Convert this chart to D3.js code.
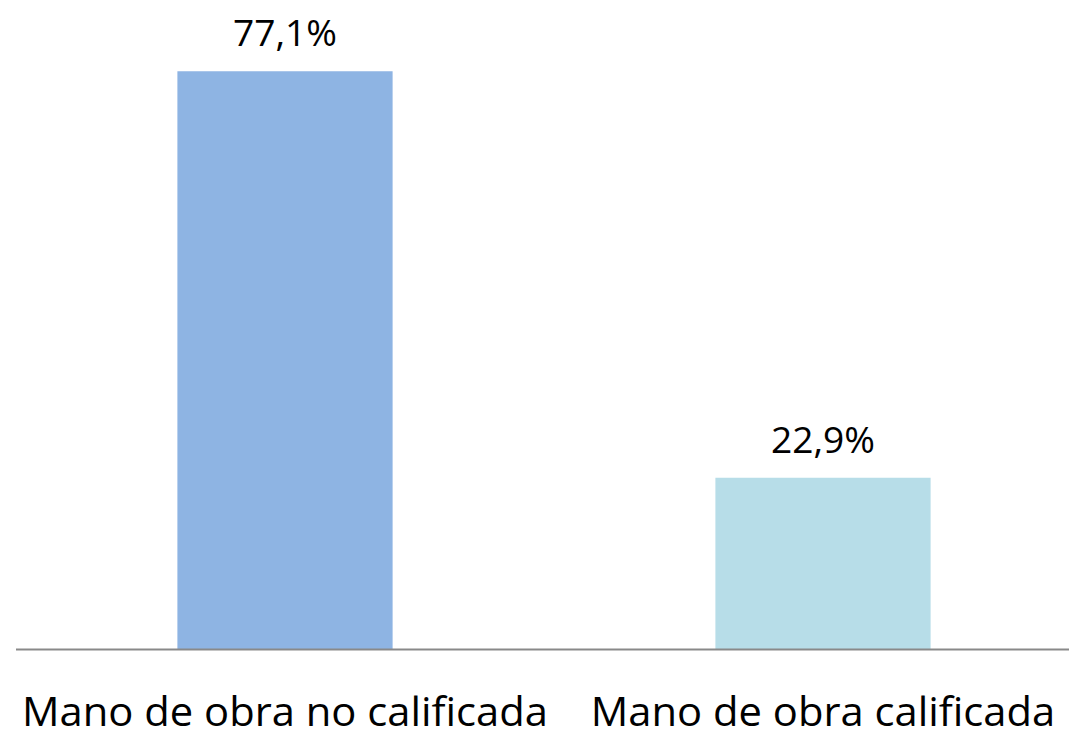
<!DOCTYPE html>
<html><head><meta charset="utf-8">
<script src="https://cdn.jsdelivr.net/npm/d3@7/dist/d3.min.js"></script>
<style>html,body{margin:0;padding:0;background:#fff;overflow:hidden}</style>
</head><body>
<svg id="c" width="1069" height="729"></svg>
<script>
const categories = ["Mano de obra no calificada", "Mano de obra calificada"];
const values = [77.1, 22.9];
const valueLabels = ["77,1%", "22,9%"];
const colors = ["#8EB4E3", "#B7DDE8"];

const W = 1069, H = 729;
const svg = d3.select("#c");
const font = "'Open Sans', 'Noto Sans', sans-serif";

const x = d3.scaleBand().domain(categories).range([16, 1092]).paddingInner(0.6).paddingOuter(0.3);
const y = d3.scaleLinear().domain([0, 80]).range([649.5, 49.5]);

svg.selectAll("rect.bar").data(values).join("rect")
  .attr("class", "bar")
  .attr("x", (d, i) => x(categories[i]))
  .attr("width", x.bandwidth())
  .attr("y", d => y(d))
  .attr("height", d => y(0) - y(d))
  .attr("fill", (d, i) => colors[i]);

// baseline axis
const axis = svg.append("g").attr("transform", `translate(0,${y(0)})`)
  .call(d3.axisBottom(x).tickSize(0).tickFormat(""));
axis.select(".domain").attr("d", `M16,0H${W}`).attr("stroke", "#898989").attr("stroke-width", 2);

// horizontal compression so the fallback font matches the reference's narrower face
function squeeze(sel, refIndex, target) {
  const nodes = sel.nodes();
  const k = target / nodes[refIndex].getComputedTextLength();
  sel.each(function () {
    const t = d3.select(this);
    const cx = +t.attr("x"), cy = +t.attr("y");
    t.attr("transform", `translate(${cx},${cy}) scale(${k},1) translate(${-cx},${-cy})`);
  });
}

// value labels
svg.selectAll("text.val").data(values).join("text")
  .attr("class", "val")
  .attr("x", (d, i) => x(categories[i]) + x.bandwidth() / 2)
  .attr("y", d => y(d) - 25)
  .attr("text-anchor", "middle")
  .attr("font-family", font)
  .attr("font-size", 36.5)
  .attr("fill", "#000")
  .text((d, i) => valueLabels[i])
  .call(squeeze, 0, 104);

// category labels
svg.selectAll("text.cat").data(categories).join("text")
  .attr("class", "cat")
  .attr("x", d => x(d) + x.bandwidth() / 2)
  .attr("y", 726)
  .attr("text-anchor", "middle")
  .attr("font-family", font)
  .attr("font-size", 40.5)
  .attr("fill", "#000")
  .text(d => d)
  .call(squeeze, 0, 526);
</script>
</body></html>
